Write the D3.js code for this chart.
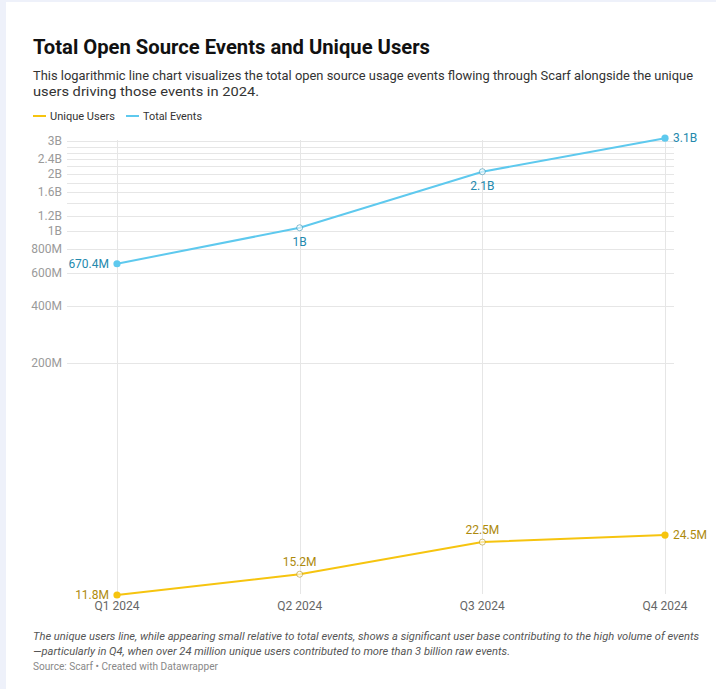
<!DOCTYPE html>
<html>
<head>
<meta charset="utf-8">
<script src="https://cdn.jsdelivr.net/npm/d3@7"></script>
<style>
  html, body { margin: 0; padding: 0; background: #eef1fa; }
  svg { display: block; font-family: Roboto, "Noto Sans", sans-serif; }
</style>
</head>
<body>
<svg id="chart" width="716" height="689"></svg>
<script>
// Quarterly figures for 2024
const quarters = ["Q1 2024", "Q2 2024", "Q3 2024", "Q4 2024"];
const totalEvents = [670.4e6, 1.04e9, 2.06e9, 3.1e9];
const uniqueUsers = [11.8e6, 15.2e6, 22.5e6, 24.5e6];
const seriesNames = ["Unique Users", "Total Events"];
const gridTicks = [2e8, 4e8, 6e8, 8e8, 1e9, 1.2e9, 1.4e9, 1.6e9, 1.8e9, 2e9, 2.2e9, 2.4e9, 2.6e9, 2.8e9, 3e9];
const labelledTicks = [2e8, 4e8, 6e8, 8e8, 1e9, 1.2e9, 1.6e9, 2e9, 2.4e9, 3e9];

const W = 716, H = 689;
const svg = d3.select("#chart");

// white card on the pale frame
svg.append("rect").attr("x", 6).attr("y", 2).attr("width", W - 6).attr("height", H - 2).attr("fill", "#ffffff");

const colUsers = "#f6c40f", colUsersText = "#ad8a0c";
const colEvents = "#5ec9ee", colEventsText = "#2489ad";

// abbreviated number format: 670.4M, 1B, 2.1B
function fmt(v) {
  if (v >= 1e9) return d3.format(".1f")(v / 1e9).replace(/\.0$/, "") + "B";
  return d3.format(".1f")(v / 1e6).replace(/\.0$/, "") + "M";
}

// text line set to a fixed width (the header font is a narrow cut)
function fitted(sel, xPos, yPos, width, str) {
  return sel.append("text").attr("x", xPos).attr("y", yPos)
    .attr("textLength", width).attr("lengthAdjust", "spacingAndGlyphs").text(str);
}

// header
const title = svg.append("g").attr("font-size", 21).attr("font-weight", 700).attr("fill", "#111");
fitted(title, 33, 54, 397, "Total Open Source Events and Unique Users");
const sub = svg.append("g").attr("font-size", 13).attr("fill", "#333");
fitted(sub, 33, 80, 660, "This logarithmic line chart visualizes the total open source usage events flowing through Scarf alongside the unique");
fitted(sub, 33, 96, 226, "users driving those events in 2024.");

// legend
const legend = svg.append("g").attr("font-size", 11.5).attr("fill", "#333");
const legendX = [33, 126];
const legendW = [65, 59];
[colUsers, colEvents].forEach((c, i) => {
  legend.append("line").attr("x1", legendX[i]).attr("x2", legendX[i] + 13)
    .attr("y1", 116).attr("y2", 116).attr("stroke", c).attr("stroke-width", 2);
  fitted(legend, legendX[i] + 17, 120, legendW[i], seriesNames[i]);
});

// scales
const x = d3.scalePoint().domain(quarters).range([117, 665]);
const y = d3.scaleLog().domain([d3.min(uniqueUsers), d3.max(totalEvents)]).range([595, 138.2]);

// horizontal grid + y labels
const gy = svg.append("g");
gy.selectAll("line").data(gridTicks).join("line")
  .attr("x1", 67).attr("x2", 674)
  .attr("y1", d => Math.round(y(d)) + 0.5).attr("y2", d => Math.round(y(d)) + 0.5)
  .attr("stroke", "#e6e6e6").attr("stroke-width", 1);
gy.selectAll("text").data(labelledTicks).join("text")
  .attr("x", 62).attr("y", d => y(d) + 4)
  .attr("text-anchor", "end").attr("font-size", 12).attr("fill", "#9a9a9a")
  .text(d => fmt(d));

// vertical grid at each quarter
svg.append("g").selectAll("line").data(quarters).join("line")
  .attr("x1", d => Math.round(x(d)) + 0.5).attr("x2", d => Math.round(x(d)) + 0.5)
  .attr("y1", 140).attr("y2", 594)
  .attr("stroke", "#e6e6e6").attr("stroke-width", 1);

// x axis labels
svg.append("g").selectAll("text").data(quarters).join("text")
  .attr("x", d => x(d)).attr("y", 610)
  .attr("text-anchor", "middle").attr("font-size", 12).attr("fill", "#666")
  .text(d => d);

const line = d3.line().x((d, i) => x(quarters[i])).y(d => y(d));

function drawSeries(values, col, textCol, labelPos) {
  const g = svg.append("g");
  g.append("path").datum(values).attr("d", line)
    .attr("fill", "none").attr("stroke", col).attr("stroke-width", 2);
  values.forEach((v, i) => {
    const cx = x(quarters[i]), cy = y(v);
    const ends = i === 0 || i === values.length - 1;
    g.append("circle").attr("cx", cx).attr("cy", cy)
      .attr("r", ends ? 3.6 : 3)
      .attr("fill", ends ? col : "#fff")
      .attr("fill-opacity", ends ? 1 : 0.6)
      .attr("stroke", ends ? "none" : textCol)
      .attr("stroke-opacity", 0.55)
      .attr("stroke-width", 1);
    const p = labelPos[i];
    let tx = cx, ty = cy + 4, anchor = "middle";
    if (p === "left") { tx = cx - 8; anchor = "end"; }
    if (p === "right") { tx = cx + 8; anchor = "start"; }
    if (p === "below") { ty = cy + 18; }
    if (p === "above") { ty = cy - 8; }
    g.append("text").attr("x", tx).attr("y", ty).attr("text-anchor", anchor)
      .attr("font-size", 12).attr("fill", textCol).text(fmt(v));
  });
}

drawSeries(totalEvents, colEvents, colEventsText, ["left", "below", "below", "right"]);
drawSeries(uniqueUsers, colUsers, colUsersText, ["left", "above", "above", "right"]);

// notes
const note = svg.append("g").attr("font-size", 11).attr("font-style", "italic").attr("fill", "#555");
fitted(note, 33, 640, 666, "The unique users line, while appearing small relative to total events, shows a significant user base contributing to the high volume of events");
fitted(note, 33, 655, 477, "\u2014particularly in Q4, when over 24 million unique users contributed to more than 3 billion raw events.");
const src = svg.append("g").attr("font-size", 10.5).attr("fill", "#888");
fitted(src, 33, 670, 185, "Source: Scarf \u2022 Created with Datawrapper");
</script>
</body>
</html>
